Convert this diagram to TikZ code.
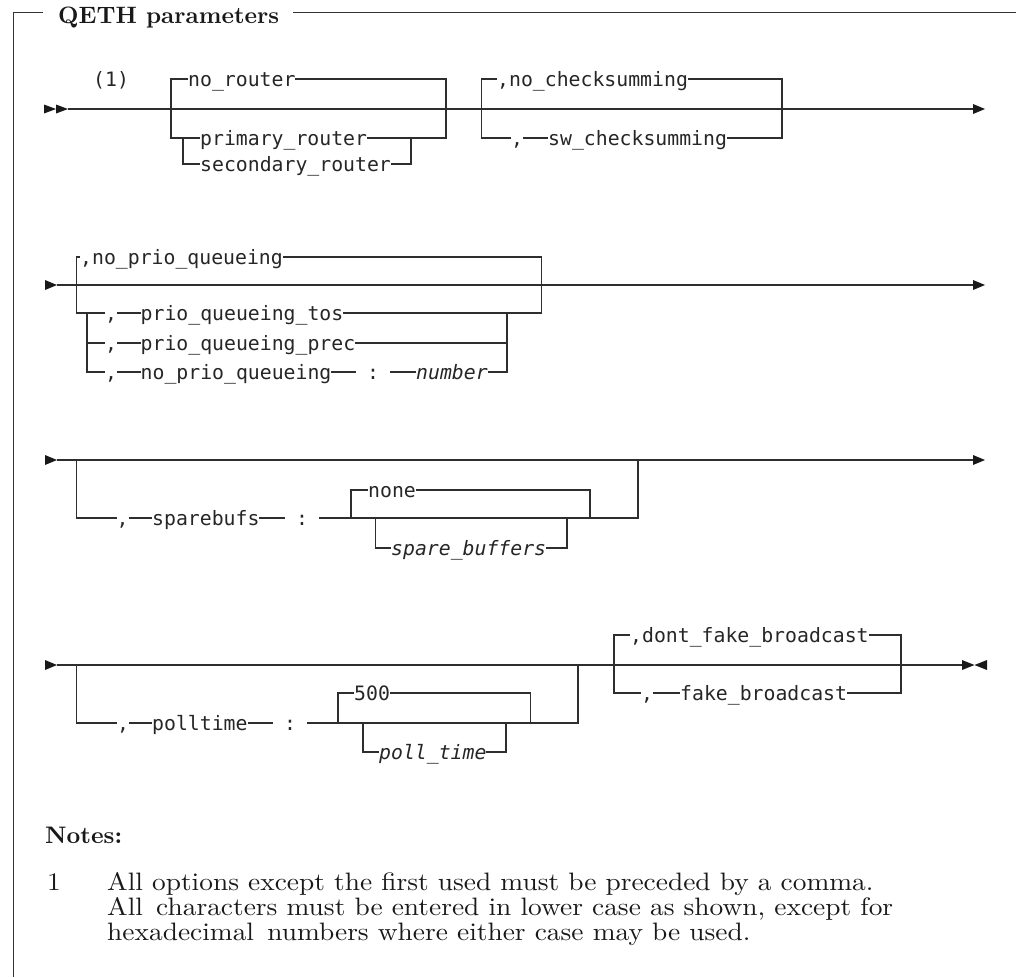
\documentclass[tikz,border=0pt]{standalone}
\usepackage{graphicx}
\usepackage{fontspec}
\setmonofont{DejaVu Sans Mono}
\newfontfamily\notefont{lmroman10-regular.otf}
\newfontfamily\ttlfont{lmroman10-bold.otf}
\newcommand\notetext[1]{\scalebox{2.74}[2.52]{\notefont\fontsize{10}{12}\selectfont #1}}
\begin{document}
\begin{tikzpicture}[x=1pt,y=-1pt,
  rr/.style={line width=1.15pt, draw=black!82},
  frame/.style={line width=1pt, draw=black!80},
  tip/.style={fill=black!90},
  kw/.style={font=\ttfamily\fontsize{19.8}{24}\selectfont, text=black!85, fill=white,
     inner xsep=0pt, inner ysep=0pt, text height=13pt, text depth=4pt, anchor=base west},
  var/.style={kw, font=\ttfamily\itshape\fontsize{19.8}{24}\selectfont},
  sepc/.style={kw, inner xsep=11pt},
  ttl/.style={text=black!90, inner sep=0pt, anchor=base west},
  note/.style={text=black!90, inner sep=0pt, anchor=base west}
]
\useasboundingbox (0,0) rectangle (1016,977);

% frame and title
\draw[frame] (43,12.7) -- (13.5,12.7) -- (13.5,977);
\draw[frame] (293,12.7) -- (1016,12.7);
\node[ttl] (title) at (58,23.5) {\resizebox{221pt}{!}{\ttlfont QETH parameters}};

% ---------------- row 1 ----------------
\fill[tip] (44,104.5) -- (56,109) -- (44,113.5) -- cycle;
\fill[tip] (56,104.5) -- (68,109) -- (56,113.5) -- cycle;
\draw[rr] (68,109) -- (973,109);
\fill[tip] (973,104) -- (985,109) -- (973,114) -- cycle;
\node[kw, fill=none] (n1) at (93,86.5) {(1)};
\draw[rr] (171,79) rectangle (446,138);
\draw[rr] (183,138) -- (183,164) -- (411,164) -- (411,138);
\node[kw] (norouter) at (188,86.5) {no\_router};
\node[kw] (primrouter) at (200,145.5) {primary\_router};
\node[kw] (secrouter) at (200,171.5) {secondary\_router};
\draw[rr] (481.6,79) rectangle (782,138);
\node[kw] (nocheck) at (497,86.5) {,no\_checksumming};
\node[kw] (c1) at (511,145.5) {,};
\node[kw] (swcheck) at (548,145.5) {sw\_checksumming};

% ---------------- row 2 ----------------
\fill[tip] (45,280) -- (57,285) -- (45,290) -- cycle;
\draw[rr] (57,285) -- (973,285);
\fill[tip] (973,280) -- (985,285) -- (973,290) -- cycle;
\draw[rr] (76.5,257) rectangle (541.5,313);
\draw[rr] (87,313) -- (87,372) -- (507,372) -- (507,313);
\draw[rr] (87,343) -- (507,343);
\node[kw] (noprio) at (80,264.5) {,no\_prio\_queueing};
\node[kw] (c2) at (105,320.5) {,};
\node[kw] (priotos) at (140.5,320.5) {prio\_queueing\_tos};
\node[kw] (c3) at (105,350.5) {,};
\node[kw] (prioprec) at (140.5,350.5) {prio\_queueing\_prec};
\node[kw] (c4) at (105,379.5) {,};
\node[kw] (noprio2) at (140.5,379.5) {no\_prio\_queueing};
\node[sepc] (col1) at (356,379.5) {:};
\node[var] (number) at (416,379.5) {number};

% ---------------- row 3 ----------------
\fill[tip] (45,455) -- (57,460) -- (45,465) -- cycle;
\draw[rr] (57,460) -- (973,460);
\fill[tip] (973,455) -- (985,460) -- (973,465) -- cycle;
\draw[rr] (76.5,460) -- (76.5,518) -- (638,518) -- (638,460);
\draw[rr] (351,518) -- (351,490) -- (590,490) -- (590,518);
\draw[rr] (375.5,518) -- (375.5,548) -- (567,548) -- (567,518);
\node[kw] (c5) at (116.5,525.5) {,};
\node[kw] (sparebufs) at (152,525.5) {sparebufs};
\node[sepc] (col2) at (285,525.5) {:};
\node[kw] (none) at (368,497.5) {none};
\node[var] (sparebuffers) at (391,555.5) {spare\_buffers};

% ---------------- row 4 ----------------
\fill[tip] (45,660) -- (57,665) -- (45,670) -- cycle;
\draw[rr] (57,665) -- (962,665);
\draw[rr, line width=1.8pt] (906,665) -- (930,665);
\fill[tip] (962,660) -- (974.5,665) -- (962,670) -- cycle;
\fill[tip] (987,660) -- (974.5,665) -- (987,670) -- cycle;
\draw[rr] (76.5,665) -- (76.5,723) -- (578,723) -- (578,665);
\draw[rr] (338,723) -- (338,693) -- (530.5,693) -- (530.5,723);
\draw[rr] (363,723) -- (363,752) -- (506,752) -- (506,723);
\node[kw] (c6) at (117,730.5) {,};
\node[kw] (polltime) at (152,730.5) {polltime};
\node[sepc] (col3) at (273,730.5) {:};
\node[kw] (v500) at (354,700.5) {500};
\node[var] (polltimev) at (379,759.5) {poll\_time};
\draw[rr] (614,635) rectangle (901,693);
\node[kw] (dontfake) at (630,642.5) {,dont\_fake\_broadcast};
\node[kw] (c7) at (641,700.5) {,};
\node[kw] (fake) at (680,700.5) {fake\_broadcast};

% ---------------- notes ----------------
\node[ttl] (notes) at (45,843) {\resizebox{77pt}{!}{\ttlfont Notes:}};
\node[note] (num1) at (47,890) {\notetext{1}};
\node[note] (l1) at (107,890) {\notetext{All options except the first used must be preceded by a comma.}};
\node[note] (l2) at (107,915) {\notetext{All\hspace{0.15em} characters must be entered in lower case as shown, except for}};
\node[note] (l3) at (107,940) {\notetext{hexadecimal\hspace{0.15em} numbers where either case may be used.}};
\end{tikzpicture}
\end{document}
